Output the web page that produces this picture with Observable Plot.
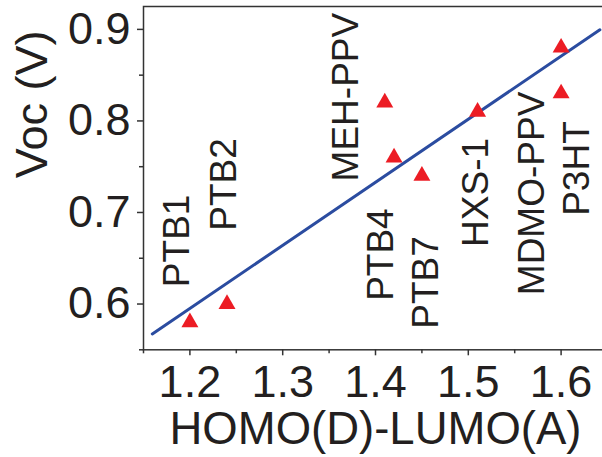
<!DOCTYPE html>
<html>
<head>
<meta charset="utf-8">
<script src="https://cdn.jsdelivr.net/npm/d3@7"></script>
<script src="https://cdn.jsdelivr.net/npm/@observablehq/plot@0.6"></script>
<style>
  html, body { margin: 0; padding: 0; background: #fff; }
  svg { display: block; }
</style>
</head>
<body>
<div id="chart"></div>
<script>
// Data
const names  = ["PTB1", "PTB2", "MEH-PPV", "PTB4", "PTB7", "HXS-1", "MDMO-PPV", "P3HT"];
const gap    = [1.20, 1.24, 1.41, 1.42, 1.45, 1.51, 1.60, 1.60];
const voc    = [0.58, 0.60, 0.82, 0.76, 0.74, 0.81, 0.83, 0.88];
// annotation label centres (data units)
const labelX = [1.186, 1.237, 1.368, 1.4066, 1.4551, 1.5089, 1.5693, 1.6178];
const labelY = [0.669, 0.7306, 0.826, 0.654, 0.6235, 0.7219, 0.7208, 0.748];
// linear fit line endpoints
const fitX = [1.1595, 1.6418];
const fitY = [0.5673, 0.8995];
// ticks
const xMajor = [1.2, 1.3, 1.4, 1.5, 1.6];
const xMinor = [1.15, 1.25, 1.35, 1.45, 1.55, 1.65];
const yMajor = [0.6, 0.7, 0.8, 0.9];
const yMinor = [0.55, 0.65, 0.75, 0.85];

const points = names.map((n, i) => ({name: n, x: gap[i], y: voc[i]}));
const labels = names.map((n, i) => ({name: n, x: labelX[i], y: labelY[i]}));
const fit = fitX.map((x, i) => ({x, y: fitY[i]}));

const ink = "#231f20";
const chart = Plot.plot({
  width: 602,
  height: 457,
  marginLeft: 143,
  marginRight: -5,
  marginTop: 6,
  marginBottom: 107.7,
  style: {fontFamily: "'Liberation Sans', Arial, sans-serif", color: ink, background: "#fff"},
  x: {domain: [1.15, 1.65]},
  y: {domain: [0.55, 0.925]},
  marks: [
    Plot.frame({stroke: "#333", strokeWidth: 1.5}),
    Plot.axisX(xMinor, {tickSize: 4, tickFormat: () => "", stroke: "#333", strokeWidth: 1.5, label: null}),
    Plot.axisX(xMajor, {tickSize: 6, tickPadding: 9, fontSize: 45, stroke: "#333", strokeWidth: 1.5, tickFormat: d3.format(".1f"), label: null}),
    Plot.axisY(yMinor, {tickSize: 4, tickFormat: () => "", stroke: "#333", strokeWidth: 1.5, label: null}),
    Plot.axisY(yMajor, {tickSize: 6, tickPadding: 7, fontSize: 45, stroke: "#333", strokeWidth: 1.5, tickFormat: d3.format(".1f"), label: null}),
    Plot.line(fit, {x: "x", y: "y", stroke: "#2b4ca0", strokeWidth: 3}),
    Plot.dot(points, {x: "x", y: "y", symbol: "triangle", r: 6.3, fill: "#ec1c24", stroke: "none"}),
    Plot.text(labels, {x: "x", y: "y", text: "name", rotate: -90, fontSize: 37, textAnchor: "middle", lineAnchor: "middle", fill: ink}),
    Plot.text(["HOMO(D)-LUMO(A)"], {frameAnchor: "bottom", lineAnchor: "top", dy: 62, fontSize: 45.5, fill: ink}),
    Plot.text(["Voc (V)"], {frameAnchor: "left", rotate: -90, dx: -110.5, lineAnchor: "middle", fontSize: 45, fill: ink})
  ]
});
document.getElementById("chart").appendChild(chart);
</script>
</body>
</html>
